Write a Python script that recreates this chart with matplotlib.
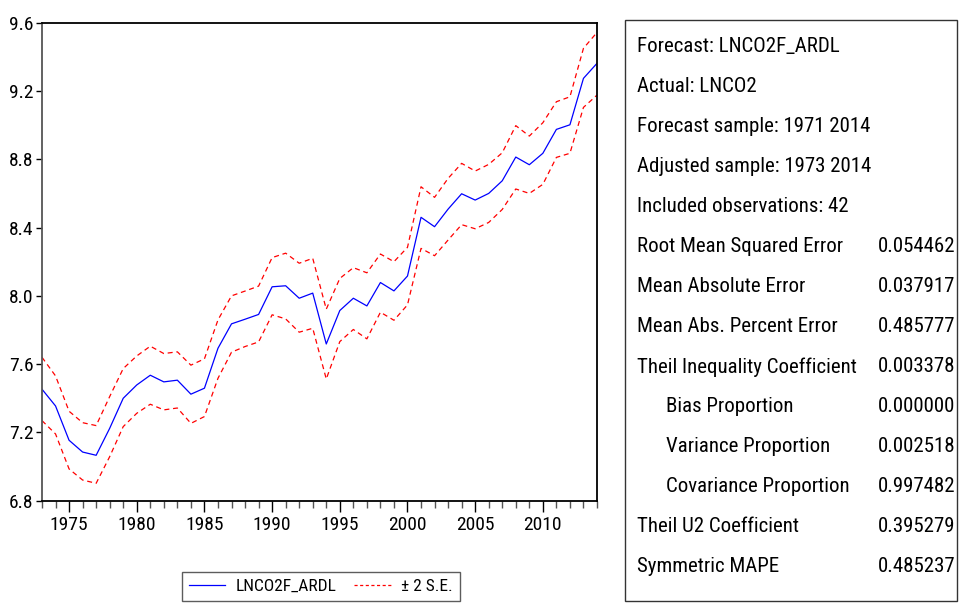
import matplotlib
matplotlib.use('Agg')
import matplotlib.pyplot as plt
from matplotlib.ticker import MultipleLocator
from matplotlib.patches import Rectangle
from matplotlib.lines import Line2D
from matplotlib import font_manager

years = list(range(1973, 2015))
forecast = [7.453, 7.355, 7.154, 7.085, 7.066, 7.224, 7.400, 7.478, 7.535, 7.496,
            7.506, 7.424, 7.459, 7.693, 7.836, 7.863, 7.891, 8.053, 8.059, 7.986,
            8.016, 7.718, 7.914, 7.986, 7.941, 8.078, 8.029, 8.116, 8.460, 8.405,
            8.508, 8.598, 8.561, 8.600, 8.674, 8.813, 8.768, 8.835, 8.975, 9.002,
            9.274, 9.362]
upper = [7.640, 7.531, 7.324, 7.257, 7.240, 7.410, 7.574, 7.648, 7.705, 7.662,
         7.672, 7.594, 7.631, 7.859, 8.000, 8.028, 8.057, 8.224, 8.250, 8.191,
         8.220, 7.922, 8.102, 8.165, 8.135, 8.245, 8.200, 8.284, 8.639, 8.577,
         8.688, 8.776, 8.731, 8.770, 8.838, 8.997, 8.936, 9.014, 9.137, 9.166,
         9.450, 9.543]
lower = [7.269, 7.191, 6.986, 6.921, 6.902, 7.058, 7.234, 7.312, 7.365, 7.332,
         7.343, 7.253, 7.293, 7.517, 7.670, 7.703, 7.730, 7.889, 7.865, 7.787,
         7.810, 7.513, 7.732, 7.803, 7.748, 7.904, 7.857, 7.947, 8.278, 8.235,
         8.327, 8.417, 8.393, 8.430, 8.506, 8.626, 8.600, 8.653, 8.811, 8.835,
         9.104, 9.176]
yticks = [6.8, 7.2, 7.6, 8.0, 8.4, 8.8, 9.2, 9.6]
xticks = [1975, 1980, 1985, 1990, 1995, 2000, 2005, 2010]

header_lines = ["Forecast: LNCO2F_ARDL", "Actual: LNCO2", "Forecast sample: 1971 2014",
                "Adjusted sample: 1973 2014", "Included observations: 42"]
stat_names = ["Root Mean Squared Error", "Mean Absolute Error", "Mean Abs. Percent Error",
              "Theil Inequality Coefficient", "Bias Proportion", "Variance Proportion",
              "Covariance Proportion", "Theil U2 Coefficient", "Symmetric MAPE"]
stat_values = ["0.054462", "0.037917", "0.485777", "0.003378", "0.000000",
               "0.002518", "0.997482", "0.395279", "0.485237"]
stat_indent = [False, False, False, False, True, True, True, False, False]

# pick a narrow font if one is installed
installed = {(f.name, str(f.stretch)) for f in font_manager.fontManager.ttflist}
names = {n for n, _ in installed}
narrow = None
for cand in ['Liberation Sans Narrow', 'Roboto Condensed', 'Open Sans Condensed',
             'DejaVu Sans Condensed', 'Noto Sans Condensed']:
    if cand in names:
        narrow = cand
        break
stretch = 'normal'
if narrow is None:
    for n, st in installed:
        if n in ('DejaVu Sans', 'Noto Sans', 'Roboto', 'Open Sans') and st in ('condensed', '300', 'semi-condensed', '400'):
            if st in ('condensed', '300'):
                narrow = n
                stretch = 'condensed'
                break

if narrow is not None:
    plt.rcParams['font.family'] = [narrow, 'Liberation Sans', 'DejaVu Sans']
    plt.rcParams['font.stretch'] = stretch
    scale = 1.0 if narrow != 'DejaVu Sans' else 0.95
else:
    plt.rcParams['font.family'] = ['Liberation Sans', 'DejaVu Sans']
    scale = 0.9

W, H = 963, 605
fig = plt.figure(figsize=(W / 100, H / 100), dpi=100)
ax = fig.add_axes([42 / W, 1 - 500.7 / H, (597 - 42) / W, (500.7 - 22.7) / H])

ax.plot(years, forecast, color='#0000ff', lw=0.9, label='LNCO2F_ARDL')
ax.plot(years, upper, color='#ff0000', lw=0.9, ls=(0, (4, 3)), label='\u00b1 2 S.E.')
ax.plot(years, lower, color='#ff0000', lw=0.9, ls=(0, (4, 3)))

ax.set_xlim(1973, 2014)
ax.set_ylim(6.8, 9.6)
ax.set_yticks(yticks)
ax.set_yticklabels([f"{v:.1f}" for v in yticks])
ax.set_xticks(xticks)
ax.set_xticklabels([str(v) for v in xticks])
ax.xaxis.set_minor_locator(MultipleLocator(1))
ax.tick_params(axis='x', which='major', length=8, width=1, direction='out',
               labelsize=14 * scale, pad=3)
ax.tick_params(axis='x', which='minor', length=5, width=1, direction='out', color='#555555')
ax.tick_params(axis='y', which='major', length=4, width=1, direction='out',
               labelsize=14 * scale, pad=2)
for s in ['top', 'right', 'bottom']:
    ax.spines[s].set_color('black')
    ax.spines[s].set_linewidth(1.3)
ax.spines['left'].set_color('#555555')
ax.spines['left'].set_linewidth(1.3)

handles = [Line2D([], [], color='#0000ff', lw=0.9),
           Line2D([], [], color='#ff0000', lw=0.9, ls=(0, (2.5, 2)))]
leg = fig.legend(handles, ['LNCO2F_ARDL', '\u00b1 2 S.E.'], loc='upper left',
                 bbox_to_anchor=(182 / W, 1 - 572 / H), ncol=2, frameon=True,
                 fancybox=False, fontsize=12.5 * scale, handlelength=2.1, columnspacing=1.0,
                 borderpad=0.4, handletextpad=0.6, borderaxespad=0)
leg.get_frame().set_edgecolor('#333333')
leg.get_frame().set_linewidth(1.0)

# statistics box
fig.patches.append(Rectangle((625 / W, 1 - 601 / H), (957 - 625) / W, (601 - 20) / H,
                             transform=fig.transFigure, fill=False, edgecolor='#333333',
                             lw=1.0))
y0 = 47
step = 40
row = 0
fs = 15 * scale
for line in header_lines:
    fig.text(637 / W, 1 - (y0 + row * step) / H, line, fontsize=fs, va='center', ha='left')
    row += 1
for name, val, ind in zip(stat_names, stat_values, stat_indent):
    x = 666 if ind else 637
    fig.text(x / W, 1 - (y0 + row * step) / H, name, fontsize=fs, va='center', ha='left')
    fig.text(955 / W, 1 - (y0 + row * step) / H, val, fontsize=fs, va='center', ha='right')
    row += 1

fig.savefig('out.png', dpi=100)
